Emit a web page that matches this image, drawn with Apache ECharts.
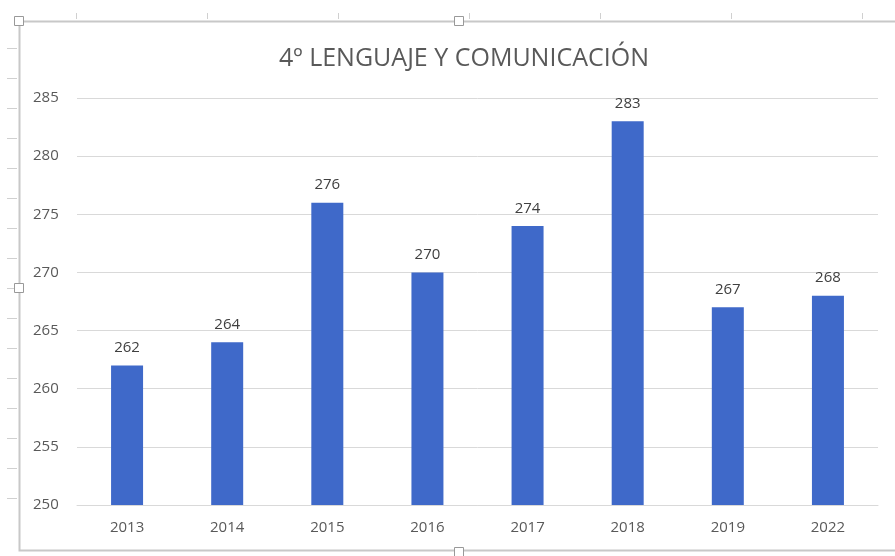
<!DOCTYPE html>
<html><head><meta charset="utf-8">
<script src="https://cdn.jsdelivr.net/npm/echarts@6/dist/echarts.min.js"></script>
<style>html,body{margin:0;padding:0;background:#fff}#c{width:895px;height:556px}</style>
</head><body><div id="c"></div>
<script>
const categories = ['2013','2014','2015','2016','2017','2018','2019','2022'];
const values = [262,264,276,270,274,283,267,268];
const titleText = '4º LENGUAJE Y COMUNICACIÓN';

const chart = echarts.init(document.getElementById('c'));
const txt = '#595959';
const deco = [];
for (let y = 48; y <= 500; y += 30) deco.push({type:'line',shape:{x1:7,y1:y+0.5,x2:17,y2:y+0.5},style:{stroke:'#d0d0d0',lineWidth:1},silent:true});
for (let x = 76; x <= 880; x += 131) deco.push({type:'line',shape:{x1:x+0.5,y1:13,x2:x+0.5,y2:19},style:{stroke:'#d0d0d0',lineWidth:1},silent:true});
chart.setOption({
  animation:false,
  backgroundColor:'#fff',
  title:{text:titleText,left:459,textAlign:'center',top:41,
    textStyle:{fontFamily:'Open Sans',fontSize:25,fontWeight:'normal',color:txt}},
  grid:{left:77,right:17,top:98,bottom:51,containLabel:false},
  xAxis:{type:'category',data:categories,
    axisLine:{lineStyle:{color:'#d9d9d9'}},axisTick:{show:false},
    axisLabel:{color:txt,fontFamily:'Open Sans',fontSize:15,margin:15}},
  yAxis:{type:'value',min:250,max:285,interval:5,
    axisLine:{show:false},axisTick:{show:false},
    splitLine:{lineStyle:{color:'#d9d9d9'}},
    axisLabel:{color:txt,fontFamily:'Open Sans',fontSize:15,margin:44,align:'left'}},
  series:[{type:'bar',data:values,barWidth:32,
    itemStyle:{color:'#3F69C9'},
    label:{show:true,position:'top',distance:10,color:'#404040',fontFamily:'Open Sans',fontSize:15}}],
  graphic:deco.concat([
    {type:'rect',shape:{x:19.5,y:21.5,width:900,height:529},style:{fill:null,stroke:'#c8c8c8',lineWidth:2},silent:true},
    {type:'rect',shape:{x:14.5,y:16.5,width:9,height:9},style:{fill:'#fff',stroke:'#999',lineWidth:1}},
    {type:'rect',shape:{x:454.5,y:16.5,width:9,height:9},style:{fill:'#fff',stroke:'#999',lineWidth:1}},
    {type:'rect',shape:{x:14.5,y:283.5,width:9,height:9},style:{fill:'#fff',stroke:'#999',lineWidth:1}},
    {type:'rect',shape:{x:454.5,y:547.5,width:9,height:9},style:{fill:'#fff',stroke:'#999',lineWidth:1}}
  ])
});
</script></body></html>
